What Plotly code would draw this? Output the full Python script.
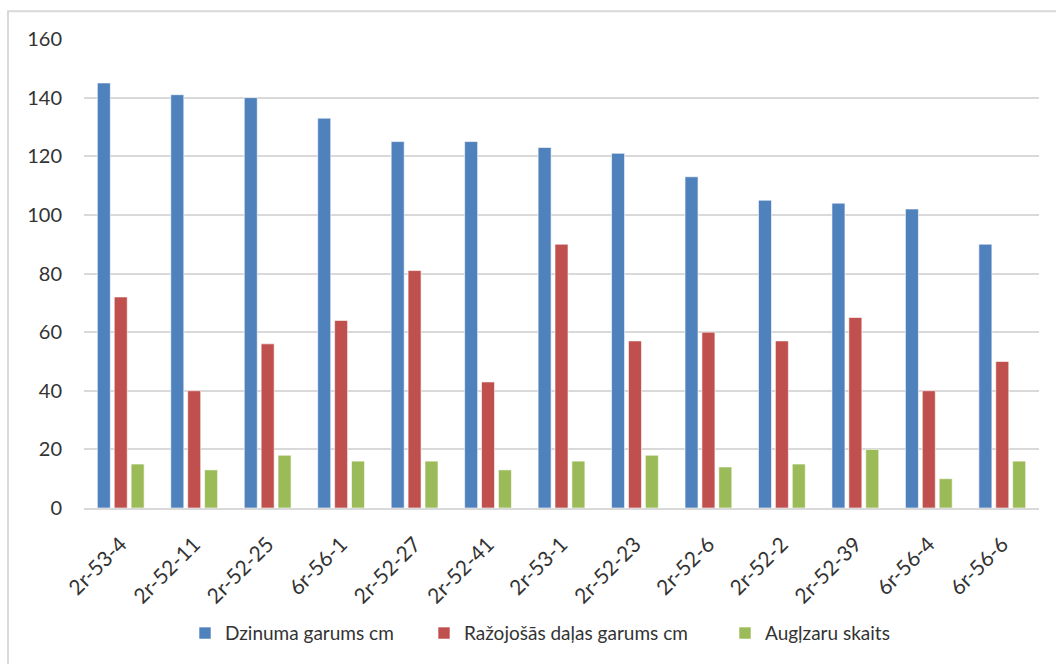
import plotly.graph_objects as go

# Varieties / clones on the category axis
categories = ["2r-53-4", "2r-52-11", "2r-52-25", "6r-56-1", "2r-52-27", "2r-52-41",
              "2r-53-1", "2r-52-23", "2r-52-6", "2r-52-2", "2r-52-39", "6r-56-4", "6r-56-6"]

# Series values
dzinuma_garums = [145, 141, 140, 133, 125, 125, 123, 121, 113, 105, 104, 102, 90]
razojosas_dalas = [72, 40, 56, 64, 81, 43, 90, 57, 60, 57, 65, 40, 50]
auglzaru_skaits = [15, 13, 18, 16, 16, 13, 16, 18, 14, 15, 20, 10, 16]

series_names = ["Dzinuma garums cm", "Ražojošās daļas garums cm", "Augļzaru skaits"]
y_ticks = [0, 20, 40, 60, 80, 100, 120, 140, 160]

colors = ["#4F81BD", "#C0504D", "#9BBB59"]
font_family = "Lato, 'Open Sans', sans-serif"
text_color = "#333333"
grid_color = "#D9D9D9"

W, H = 1056, 664
ml, mr, mt, mb = 84, 17, 39, 153
pw, ph = W - ml - mr, H - mt - mb


def px_to_paper_x(px):
    return (px - ml) / pw


def px_to_paper_y(py):
    return (H - mb - py) / ph


# each series gets its own legend box so the entries can be spaced freely
legend_ids = ["legend", "legend2", "legend3"]
legend_left_px = [185, 424, 725]

fig = go.Figure()
for name, vals, col, lg in zip(series_names,
                               [dzinuma_garums, razojosas_dalas, auglzaru_skaits],
                               colors, legend_ids):
    fig.add_trace(go.Bar(
        x=categories, y=vals, name=name, legend=lg,
        marker=dict(color=col, line=dict(color="rgba(255,255,255,0.6)", width=1)),
    ))

legend_common = dict(orientation="h", xanchor="left",
                     y=px_to_paper_y(637), yanchor="middle",
                     font=dict(size=19, color=text_color),
                     bgcolor="rgba(0,0,0,0)", itemwidth=30)

fig.update_layout(
    width=W, height=H,
    margin=dict(l=ml, r=mr, t=mt, b=mb, pad=0),
    paper_bgcolor="white", plot_bgcolor="white",
    barmode="group", bargap=0.31, bargroupgap=0.23,
    font=dict(family=font_family, size=19, color=text_color),
    showlegend=True,
    legend=dict(x=px_to_paper_x(legend_left_px[0]), **legend_common),
    legend2=dict(x=px_to_paper_x(legend_left_px[1]), **legend_common),
    legend3=dict(x=px_to_paper_x(legend_left_px[2]), **legend_common),
    xaxis=dict(tickangle=-45, showgrid=False, showline=True,
               linecolor=grid_color, linewidth=1.5, ticks="",
               ticklabelstandoff=14,
               tickfont=dict(size=21, color=text_color)),
    yaxis=dict(range=[0, 160], tickvals=y_ticks, showgrid=True,
               gridcolor=grid_color, gridwidth=1.5, zeroline=False,
               showline=False, ticks="", ticklabelstandoff=21,
               tickfont=dict(size=20, color=text_color)),
    shapes=[
        dict(type="rect", xref="paper", yref="paper",
             x0=px_to_paper_x(8), x1=px_to_paper_x(1070),
             y0=px_to_paper_y(680), y1=px_to_paper_y(11),
             line=dict(color=grid_color, width=2), fillcolor="rgba(0,0,0,0)",
             layer="below"),
    ],
)

fig.write_html("out.html")
